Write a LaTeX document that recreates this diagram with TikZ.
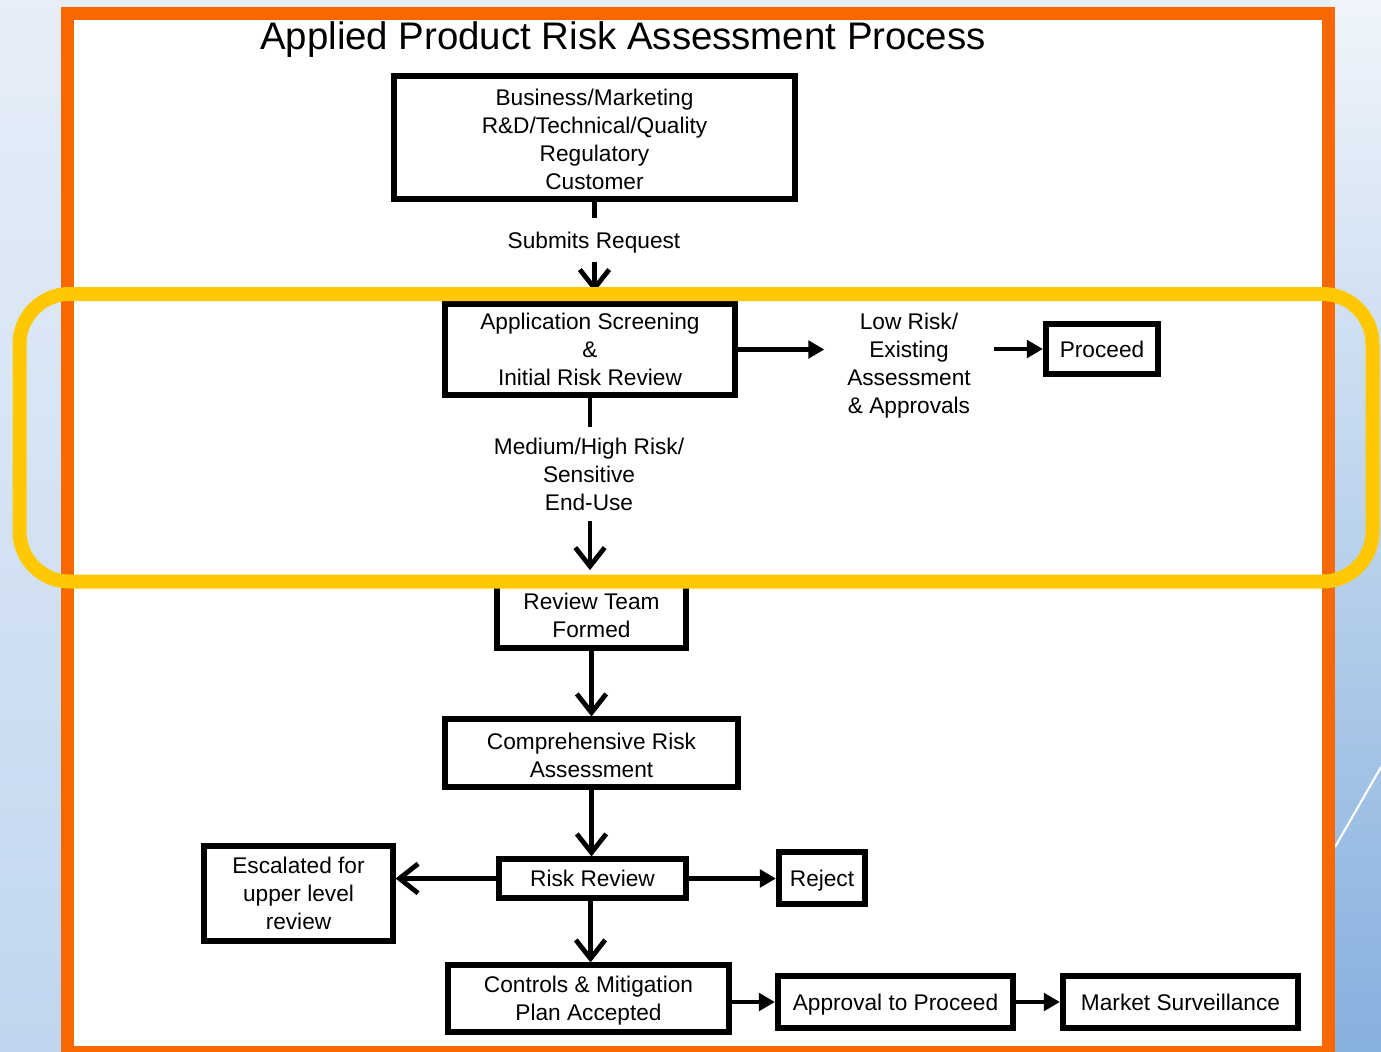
\documentclass[tikz,border=0pt]{standalone}
\usepackage{fontspec}
\setmainfont{Liberation Sans}
\usetikzlibrary{arrows.meta}
\definecolor{framec}{RGB}{247,104,0}
\definecolor{hilite}{RGB}{255,200,0}
\definecolor{bgtop}{RGB}{230,238,248}
\definecolor{bgbot}{RGB}{192,214,238}
\definecolor{rtop}{RGB}{240,245,251}
\definecolor{rmid}{RGB}{190,212,236}
\definecolor{rbot}{RGB}{134,176,222}
\newcommand{\bodyf}{\fontsize{17}{21}\selectfont}
\newcommand{\titlef}{\fontsize{28.8}{32}\selectfont}
\newcommand{\topstrut}{\rule{0pt}{15.4pt}}
\tikzset{
  box/.style={draw, line width=3.8pt, inner sep=0pt, align=center, font=\bodyf},
  thickbox/.style={box, line width=4.6pt},
  one/.style={text height=14.3pt, text depth=1.7pt},
  lbl/.style={inner xsep=4pt, inner ysep=8pt, align=center, font=\bodyf},
  conn/.style={line width=3.6pt},
  dn/.style={conn, -{Straight Barb[length=14pt,width=22pt]}},
  tri/.style={conn, -{Triangle[length=12pt,width=13pt]}}
}
\begin{document}
\begin{tikzpicture}[x=0.75pt,y=-0.75pt]
\useasboundingbox (0,0) rectangle (1381,1052);
% background
\shade[top color=bgtop, bottom color=bgbot] (0,0) rectangle (1381,1052);
\shade[top color=rtop, middle color=rmid, bottom color=rbot] (1330,0) rectangle (1381,1052);
\draw[white, line width=1.6pt] (1335,847) -- (1381,767);
\fill[white] (74,20) rectangle (1322,1046);
\draw[framec, line width=9.75pt] (67.5,13.5) rectangle (1328.5,1052.5);
% title
\node[font=\titlef] (title) at (623,40) {Applied Product Risk Assessment Process};
% boxes
\node[box, minimum width=300.75pt, minimum height=92.25pt] (src) at (594.5,137.5)
  {\topstrut Business/Marketing\\R\&D/Technical/Quality\\Regulatory\\Customer};
\node[lbl, one] (submits) at (594,240) {Submits Request};
\node[box, minimum width=217.5pt, minimum height=68.25pt] (screen) at (590,349.5)
  {Application Screening\\\&\\Initial Risk Review};
\node[lbl, inner xsep=17pt] (lowrisk) at (909,366)
  {Low Risk/\\Existing\\Assessment\\\& Approvals};
\node[thickbox, one, minimum width=84pt, minimum height=37.5pt] (proceed) at (1102,349) {Proceed};
\node[lbl] (medium) at (589,474) {Medium/High Risk/\\Sensitive\\End-Use};
\node[box, minimum width=141.75pt, minimum height=49.5pt] (team) at (591.5,615)
  {Review Team\\Formed};
\node[box, minimum width=219.75pt, minimum height=51pt] (compr) at (591.5,753)
  {\topstrut Comprehensive Risk\\Assessment};
\node[box, one, minimum width=140.25pt, minimum height=29.25pt] (rreview) at (592.5,878.5) {Risk Review};
\node[box, minimum width=141.75pt, minimum height=71.25pt] (escal) at (298.5,893.5)
  {Escalated for\\upper level\\review};
\node[thickbox, one, minimum width=64.5pt, minimum height=39pt] (reject) at (822,878) {Reject};
\node[box, minimum width=210.75pt, minimum height=50.25pt] (controls) at (588.5,998.5)
  {\topstrut Controls \& Mitigation\\Plan Accepted};
\node[thickbox, one, minimum width=176.25pt, minimum height=39pt] (approval) at (895.5,1002) {Approval to Proceed};
\node[thickbox, one, minimum width=176.25pt, minimum height=39pt] (market) at (1180.5,1002) {Market Surveillance};
% connectors
\draw[conn] (src.south) -- (src.south |- submits.north);
\draw[dn, shorten >=7pt] (src.south |- submits.south) -- (src.south |- screen.north);
\draw[tri] (screen.east) -- (screen.east -| lowrisk.west);
\draw[tri] (lowrisk.east |- proceed.west) -- (proceed.west);
\draw[conn] (screen.south) -- (screen.south |- medium.north);
\draw[dn, shorten >=7pt] (screen.south |- medium.south) -- (screen.south |- team.north);
\draw[dn] (team.south) -- (compr.north);
\draw[dn] (compr.south) -- (compr.south |- rreview.north);
\draw[dn] (rreview.west) -- (rreview.west -| escal.east);
\draw[tri] (rreview.east) -- (rreview.east -| reject.west);
\draw[dn] ([xshift=-1.5pt]rreview.south) -- ([xshift=-1.5pt]rreview.south |- controls.north);
\draw[tri] (controls.east |- approval.west) -- (approval.west);
\draw[tri] (approval.east) -- (market.west);
% highlight
\draw[hilite, line width=10.5pt, rounded corners=37.5pt] (19.5,294) rectangle (1372.5,581.5);
\end{tikzpicture}
\end{document}
